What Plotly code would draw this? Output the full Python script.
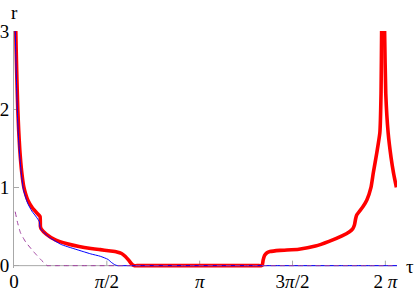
import plotly.graph_objects as go

# Red (thick) curve
red_tau = [0.025, 0.03, 0.037, 0.045, 0.054, 0.064, 0.08, 0.098, 0.13, 0.165, 0.2, 0.233, 0.31, 0.39, 0.44, 0.447, 0.46,
           0.55, 0.7, 0.9, 1.1, 1.3, 1.46, 1.6, 1.74, 1.82, 1.88, 1.94, 1.98, 2.01, 2.04, 2.1, 2.2, 2.4, 2.8, 3.2, 3.6, 3.9, 4.05, 4.13, 4.18,
           4.20, 4.215, 4.24, 4.28, 4.33, 4.5, 4.82, 5.1, 5.33, 5.55, 5.67, 5.73, 5.76, 5.78, 5.80, 5.9, 5.97, 6.04, 6.08, 6.14, 6.19, 6.21, 6.22, 6.225,
           None, 6.265, 6.27, 6.29, 6.33, 6.38, 6.42, 6.47]
red_r = [3.3, 3.0, 2.75, 2.5, 2.25, 2.0, 1.72, 1.48, 1.2, 1.01, 0.91, 0.84, 0.74, 0.67, 0.63, 0.5, 0.47,
         0.40, 0.33, 0.28, 0.245, 0.22, 0.205, 0.19, 0.175, 0.155, 0.12, 0.07, 0.03, 0.008, 0.0, 0.0, 0.0, 0.0, 0.0, 0.0, 0.0, 0.0, 0.0, 0.0, 0.0,
         0.005, 0.07, 0.13, 0.165, 0.18, 0.195, 0.21, 0.25, 0.31, 0.38, 0.43, 0.47, 0.52, 0.6, 0.65, 0.75, 0.84, 1.0, 1.19, 1.45, 1.7, 2.2, 3.0, 3.3,
         None, 3.3, 3.0, 2.2, 1.7, 1.38, 1.19, 1.0]

# Blue (thin) curve
blue_tau = [0.018, 0.022, 0.03, 0.04, 0.05, 0.06, 0.075, 0.095, 0.125, 0.16, 0.23, 0.3, 0.38, 0.43, 0.44, 0.46,
            0.6, 0.8, 1.0, 1.17, 1.3, 1.46, 1.59, 1.65, 1.71, 1.75, 1.8, 1.9, 2.1, 2.5, 3.0, 3.5, 4.0, 4.5, 5.0, 5.5, 6.0, 6.48]
blue_r = [3.3, 3.0, 2.7, 2.4, 2.13, 1.9, 1.65, 1.42, 1.17, 0.97, 0.80, 0.70, 0.62, 0.56, 0.49, 0.46,
          0.36, 0.27, 0.22, 0.18, 0.15, 0.12, 0.08, 0.04, 0.01, 0.0, 0.0, 0.0, 0.0, 0.0, 0.0, 0.0, 0.0, 0.0, 0.0, 0.0, 0.0, 0.0]

# Purple dashed curve
purple_tau = [0.02, 0.06, 0.11, 0.2, 0.33, 0.45, 0.53, 0.56, 0.6, 0.7, 0.9, 1.3, 2.0, 3.0, 4.0, 5.0, 6.0, 6.48]
purple_r = [0.69, 0.55, 0.42, 0.30, 0.18, 0.08, 0.02, 0.0, 0.0, 0.0, 0.0, 0.0, 0.0, 0.0, 0.0, 0.0, 0.0, 0.0]

xtick_vals = [0, 1.5707963, 3.1415927, 4.712389, 6.2831853]
xtick_text = ["0", "<i>π</i>/2", "<i>π</i>", "3<i>π</i>/2", "2 <i>π</i>"]
ytick_vals = [0, 1, 2, 3]
ytick_text = ["0", "1", "2", "3"]

W, H = 417, 293
XMIN, XMAX = 0.0, 6.48
YMIN, YMAX = -0.03, 3.0
l, r, t = 13.5, 20.3, 31
b = 293 - (266 + 0.03 * 78.33)
pw, ph = W - l - r, H - t - b
AXC = "#a8a8a8"

fig = go.Figure()
fig.add_trace(go.Scatter(x=red_tau, y=red_r, mode="lines",
                         line=dict(color="#ff0000", width=3.6, shape="spline", smoothing=0.5),
                         connectgaps=False))
fig.add_trace(go.Scatter(x=blue_tau, y=blue_r, mode="lines",
                         line=dict(color="#0000ff", width=1, shape="spline", smoothing=0.5)))
fig.add_trace(go.Scatter(x=purple_tau, y=purple_r, mode="lines",
                         line=dict(color="#a040a0", width=1, dash="5px,4px", shape="spline", smoothing=0.5)))

font = dict(family="Liberation Serif", size=19, color="black")
fig.update_layout(
    width=W, height=H,
    margin=dict(l=l, r=r, t=t, b=b, pad=0),
    paper_bgcolor="white", plot_bgcolor="white",
    showlegend=False,
    font=font,
    xaxis=dict(range=[XMIN, XMAX], showgrid=False, zeroline=False, showline=False,
               ticks="", tickvals=xtick_vals, ticktext=xtick_text,
               tickfont=font, automargin=False, layer="below traces"),
    yaxis=dict(range=[YMIN, YMAX], showgrid=False, zeroline=False, showline=True,
               linecolor=AXC, linewidth=1, ticks="inside", ticklen=5,
               tickcolor=AXC, tickvals=ytick_vals, ticktext=ytick_text,
               tickfont=font, automargin=False, layer="below traces"),
)

# horizontal axis line at r = 0 and inward ticks
fig.add_shape(type="line", xref="x", yref="y", x0=XMIN, x1=XMAX, y0=0, y1=0,
              line=dict(color=AXC, width=1), layer="below")
for v in xtick_vals[1:]:
    fig.add_shape(type="line", xref="x", yref="y", ysizemode="pixel", yanchor=0,
                  x0=v, x1=v, y0=0, y1=5, line=dict(color=AXC, width=1), layer="below")

def px2paper(px, py):
    return (px - l) / pw, (H - b - py) / ph

ax, ay = px2paper(410, 267)
bx, by = px2paper(13.5, 12)
fig.add_annotation(text="τ", x=ax, y=ay, xref="paper", yref="paper", showarrow=False,
                   font=font, xanchor="center", yanchor="middle")
fig.add_annotation(text="r", x=bx, y=by, xref="paper", yref="paper", showarrow=False,
                   font=font, xanchor="center", yanchor="middle")

fig.write_html("out.html", config={"displayModeBar": False},
               post_script="document.body.style.margin='0';")
